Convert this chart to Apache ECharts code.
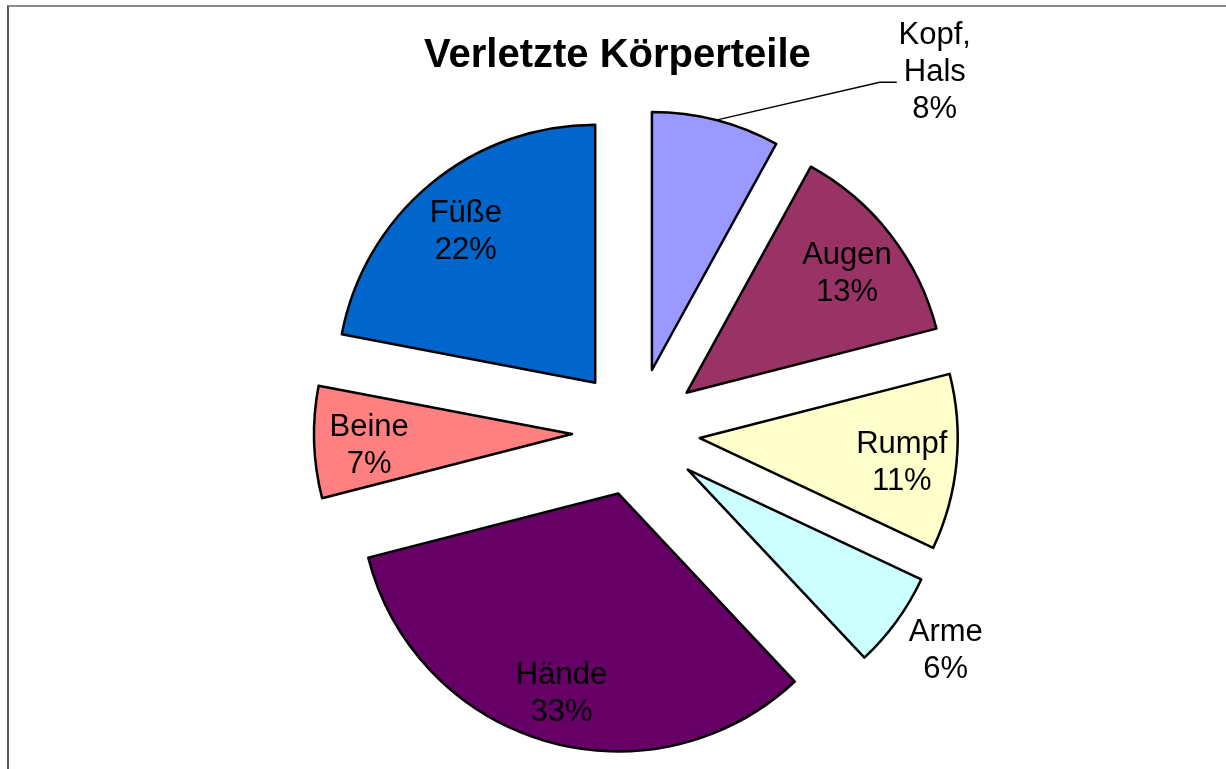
<!DOCTYPE html>
<html>
<head>
<meta charset="utf-8">
<title>Verletzte Körperteile</title>
<script src="https://cdn.jsdelivr.net/npm/echarts@6/dist/echarts.min.js"></script>
<style>
  html, body {
    margin: 0;
    padding: 0;
    background: #fff;
  }

  .wrap {
    position: relative;
    width: 1226px;
    height: 769px;
  }

  #chart {
    width: 1226px;
    height: 769px;
  }

  .frame {
    position: absolute;
    left: 7px;
    top: 5px;
    right: 0;
    bottom: 0;
    border-top: 2px solid #8c8c8c;
    border-left: 2px solid #555;
    pointer-events: none;
  }
</style>
</head>
<body>
<div class="wrap">
  <div id="chart"></div>
  <div class="frame"></div>
</div>
<script>
// Anteile je Körperteil (im Uhrzeigersinn ab 12 Uhr)
const categories = ['Kopf,\nHals', 'Augen', 'Rumpf', 'Arme', 'Hände', 'Beine', 'Füße']
const shares = [8, 13, 11, 6, 33, 7, 22]
const colors = ['#9999FF', '#993366', '#FFFFCC', '#CCFFFF', '#660066', '#FF8080', '#0066CC']

const font = '"Liberation Sans", Arial, Helvetica, sans-serif'
const center = [636, 432]

// centered multi-line text for the outside labels
function outsideText(p) {
  return p.name.split('\n').concat(p.percent + '%').map(function (s) {
    return '{t|' + s + '}'
  }).join('\n')
}

const richStyle = {
  t: {
    width: 76,
    align: 'center',
    fontSize: 31,
    lineHeight: 37,
    color: '#000',
    fontFamily: font
  }
}

// label setup for the slices whose label sits outside
const outsideCfg = {
  'Kopf,\nHals': {
    label: {
      show: true,
      position: 'outside',
      distanceToLabelLine: 0,
      padding: [0, 0, 19, 0],
      formatter: outsideText,
      rich: richStyle
    },
    labelLine: {
      show: true,
      length: 39,
      length2: 171,
      minTurnAngle: 167,
      lineStyle: { color: '#000', width: 1.5 }
    }
  },
  'Arme': {
    label: {
      show: true,
      position: 'outside',
      alignTo: 'edge',
      edgeDistance: 294,
      formatter: outsideText,
      rich: richStyle
    },
    labelLine: { show: false, length: 50, length2: 0 }
  }
}

const slices = categories.map(function (name, i) {
  const item = {
    name: name,
    value: shares[i],
    selected: true,
    itemStyle: { color: colors[i] }
  }
  if (outsideCfg[name]) {
    item.label = outsideCfg[name].label
    item.labelLine = outsideCfg[name].labelLine
  }
  return item
})

// transparent twin pie, only used to carry the inside labels further out
const labelSlices = categories.map(function (name, i) {
  return {
    name: name,
    value: shares[i],
    selected: true,
    label: { show: !outsideCfg[name] }
  }
})

const chart = echarts.init(document.getElementById('chart'))
chart.setOption({
  backgroundColor: '#fff',
  animation: false,
  title: {
    text: 'Verletzte Körperteile',
    left: 424,
    top: 36,
    padding: 0,
    textStyle: {
      fontFamily: font,
      fontSize: 40,
      fontWeight: 'bold',
      color: '#000'
    }
  },
  series: [
    {
      type: 'pie',
      center: center,
      radius: 258,
      startAngle: 90,
      clockwise: true,
      selectedMode: 'multiple',
      selectedOffset: 64,
      avoidLabelOverlap: false,
      itemStyle: { borderColor: '#000', borderWidth: 2.5 },
      select: { itemStyle: { borderColor: '#000', borderWidth: 2.5 } },
      emphasis: { disabled: true },
      label: { show: false, fontFamily: font, fontSize: 31, color: '#000' },
      labelLine: { show: false },
      data: slices
    },
    {
      type: 'pie',
      center: center,
      radius: 400,
      startAngle: 90,
      clockwise: true,
      silent: true,
      selectedMode: 'multiple',
      selectedOffset: 64,
      avoidLabelOverlap: false,
      itemStyle: { color: 'transparent', borderWidth: 0 },
      select: { itemStyle: { color: 'transparent', borderWidth: 0 } },
      emphasis: { disabled: true },
      label: {
        position: 'inside',
        // small spacer line on top pushes the text block a bit down
        formatter: '{s| }\n{t|{b}}\n{t|{d}%}',
        rich: {
          s: { fontSize: 6, lineHeight: 12 },
          t: { fontFamily: font, fontSize: 31, lineHeight: 37, color: '#000' }
        },
        color: '#000'
      },
      labelLine: { show: false },
      data: labelSlices
    }
  ]
})
</script>
</body>
</html>
